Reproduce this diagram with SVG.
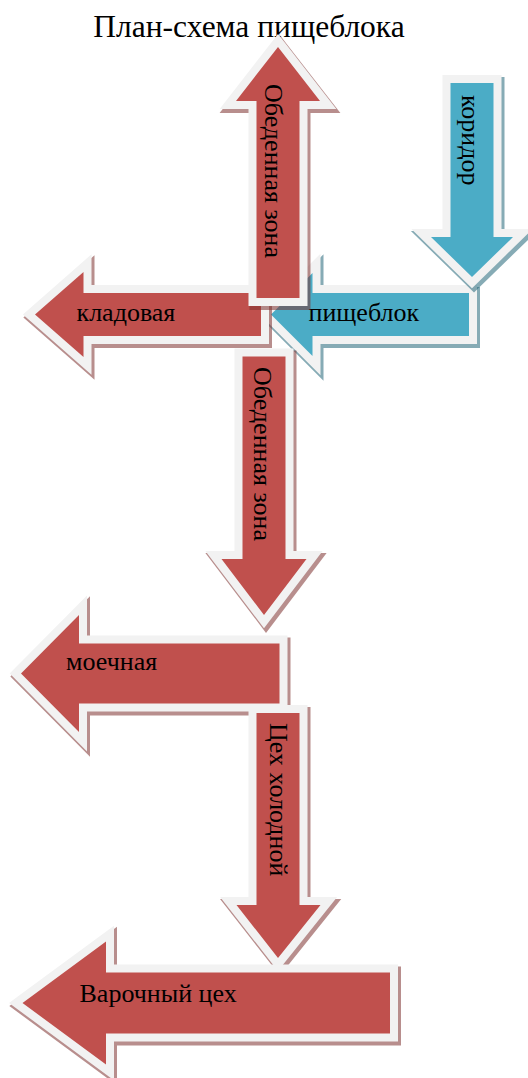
<svg xmlns="http://www.w3.org/2000/svg" xmlns:xlink="http://www.w3.org/1999/xlink" width="528" height="1078" viewBox="0 0 528 1078">
<style>
.red{fill:#C0504D;stroke:#F2F2F2;stroke-width:16;paint-order:stroke;stroke-linejoin:miter;stroke-miterlimit:4}
.blue{fill:#4BACC6;stroke:#F2F2F2;stroke-width:16;paint-order:stroke;stroke-linejoin:miter;stroke-miterlimit:4}
.shr{fill:#7F3331;stroke:#7F3331;stroke-width:18;stroke-linejoin:miter;stroke-miterlimit:4}
.shb{fill:#25677A;stroke:#25677A;stroke-width:18;stroke-linejoin:miter;stroke-miterlimit:4}
.sh{opacity:.55}
.lbl{font-family:"Liberation Serif","Times New Roman",serif;font-size:26px;fill:#000}
.title{font-family:"Liberation Serif","Times New Roman",serif;font-size:31.5px;fill:#000}
</style>
<defs>
<path id="pA" d="M278,47 L320,101 L299.5,101 L299.5,298 L256.5,298 L256.5,101 L236,101 Z"/>
<path id="pB" d="M35,314.5 L83.5,272 L83.5,293 L261,293 L261,336 L83.5,336 L83.5,357 Z"/>
<path id="pC" d="M271,314.5 L312.5,273 L312.5,293 L469,293 L469,336 L312.5,336 L312.5,356 Z"/>
<path id="pD" d="M450.5,83 L493.5,83 L493.5,237 L513,237 L472,277 L431,237 L450.5,237 Z"/>
<path id="pE" d="M242.5,356.5 L285.5,356.5 L285.5,559 L306.5,559 L264,615 L221.5,559 L242.5,559 Z"/>
<path id="pF" d="M21,673.5 L79,615 L79,643.5 L279.5,643.5 L279.5,703.5 L79,703.5 L79,732 Z"/>
<path id="pG" d="M256.5,713 L299.5,713 L299.5,905 L320.5,905 L278,958 L236.5,905 L256.5,905 Z"/>
<path id="pH" d="M22.5,1003 L106,941.5 L106,972.5 L390,972.5 L390,1033.5 L106,1033.5 L106,1064.5 Z"/>
</defs>

<text id="title" class="title" x="249" y="37" text-anchor="middle">План-схема пищеблока</text>

<g id="node-pishcheblok">
<g class="sh" transform="translate(2,3)"><use xlink:href="#pC" class="shb"/></g>
<use xlink:href="#pC" class="blue"/>
<text class="lbl" x="308.5" y="321">пищеблок</text>
</g>

<g id="node-kladovaya">
<g class="sh" transform="translate(2,3)"><use xlink:href="#pB" class="shr"/></g>
<use xlink:href="#pB" class="red"/>
<text class="lbl" x="76.5" y="321">кладовая</text>
</g>

<g id="node-obedennaya-zona-1">
<g class="sh" transform="translate(2,3)"><use xlink:href="#pA" class="shr"/></g>
<use xlink:href="#pA" class="red"/>
<text class="lbl" transform="translate(264.5,84) rotate(90)">Обеденная зона</text>
</g>

<g id="node-koridor">
<g class="sh" transform="translate(2,3)"><use xlink:href="#pD" class="shb"/></g>
<use xlink:href="#pD" class="blue"/>
<text class="lbl" transform="translate(461.5,95) rotate(90)">коридор</text>
</g>

<g id="node-obedennaya-zona-2">
<g class="sh" transform="translate(2,3)"><use xlink:href="#pE" class="shr"/></g>
<use xlink:href="#pE" class="red"/>
<text class="lbl" transform="translate(253.5,367) rotate(90)">Обеденная зона</text>
</g>

<g id="node-moechnaya">
<g class="sh" transform="translate(2,3)"><use xlink:href="#pF" class="shr"/></g>
<use xlink:href="#pF" class="red"/>
<text class="lbl" x="66" y="670">моечная</text>
</g>

<g id="node-tsekh-kholodnoy">
<g class="sh" transform="translate(2,3)"><use xlink:href="#pG" class="shr"/></g>
<use xlink:href="#pG" class="red"/>
<text class="lbl" transform="translate(269.5,723) rotate(90)">Цех холодной</text>
</g>

<g id="node-varochny-tsekh">
<g class="sh" transform="translate(2,3)"><use xlink:href="#pH" class="shr"/></g>
<use xlink:href="#pH" class="red"/>
<text class="lbl" x="79.5" y="1001.5">Варочный цех</text>
</g>
</svg>
